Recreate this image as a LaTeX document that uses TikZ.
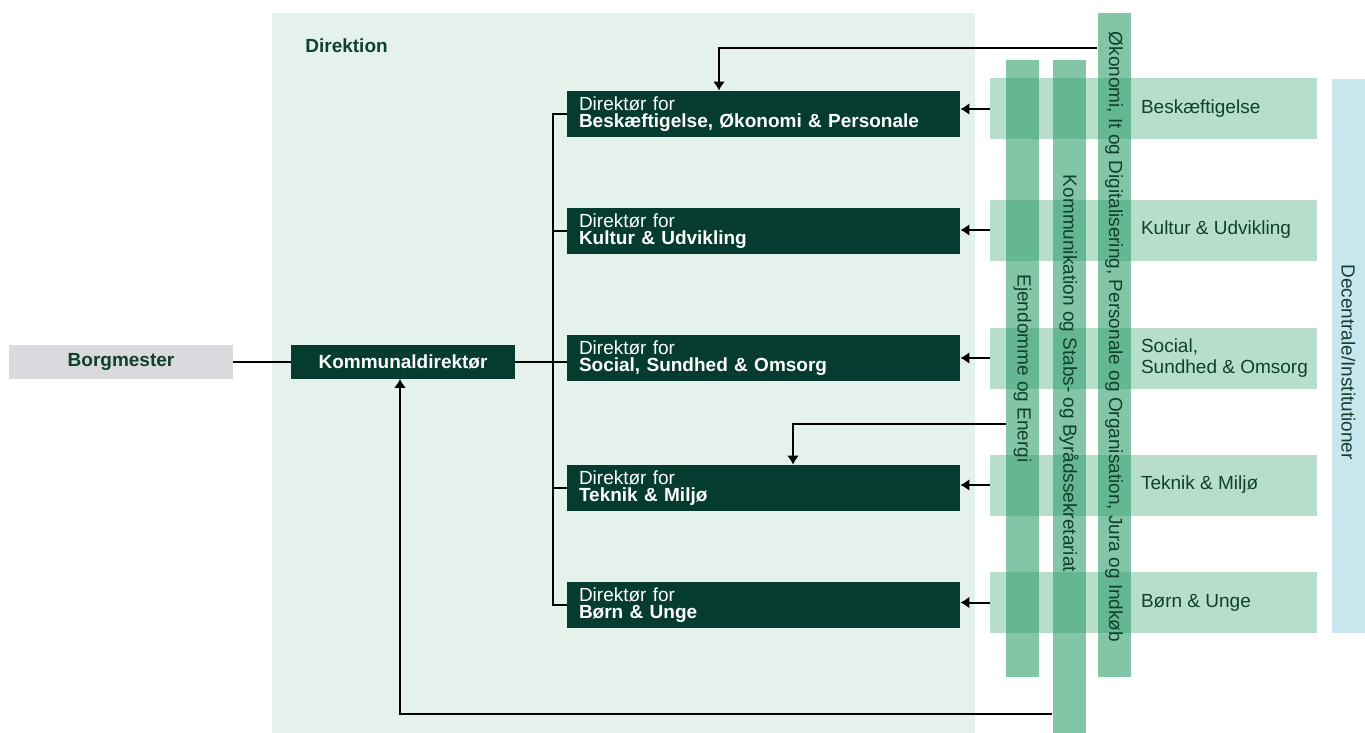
\documentclass[tikz,border=0pt]{standalone}
\usepackage{fontspec}
\setmainfont{Liberation Sans}
\usetikzlibrary{shapes,arrows,arrows.meta,calc}
\definecolor{darkgreen}{HTML}{053C2F}
\definecolor{textgreen}{HTML}{10402F}
\definecolor{direktionbg}{HTML}{E4F2EB}
\definecolor{mayorgrey}{HTML}{D9D9DE}
\definecolor{deptgreen}{HTML}{B6DECB}
\definecolor{staffgreen}{HTML}{2F9E6C}
\definecolor{decentblue}{HTML}{C7E6ED}
\newcommand{\orgfont}{\fontsize{9.5}{8.75}\selectfont}
\newcommand{\deptfont}{\fontsize{9.5}{10.5}\selectfont}
\tikzstyle{line} = [draw, -{Latex[length=4.5pt,width=6pt]}, line width=1pt]
\tikzstyle{conn} = [draw, line width=1pt]
\tikzstyle{block} = [rectangle, fill=darkgreen, text=white, align=left, text width=184.5pt, inner xsep=6pt, inner ysep=0pt, minimum width=196.5pt, minimum height=23pt, font=\orgfont]
\tikzstyle{topbox} = [rectangle, inner sep=0pt, minimum width=112pt, minimum height=17pt, font=\orgfont\bfseries]
\tikzstyle{dept} = [rectangle, fill=deptgreen, inner sep=0pt, minimum width=163.5pt, minimum height=30.5pt]
\tikzstyle{depttext} = [text=textgreen, font=\deptfont, align=left, anchor=west, inner sep=0pt]
\tikzstyle{staff} = [rectangle, fill=staffgreen, fill opacity=0.6, inner sep=0pt, minimum width=16.5pt]
\tikzstyle{vtext} = [rotate=-90, text=textgreen, font=\orgfont, inner sep=0pt]

\begin{document}
\begin{tikzpicture}[x=0.5pt, y=-0.5pt]
        \useasboundingbox (0,0) rectangle (1365,733);
        % direktion area
        \node[rectangle, fill=direktionbg, inner sep=0pt, minimum width=351.5pt, minimum height=360pt] (direktion) at (623.5,373) {};
        \node[anchor=west, inner sep=0pt, text=textgreen, font=\orgfont\bfseries] (direktion-title) at (305,46) {Direktion};
        % top level
        \node[topbox, fill=mayorgrey, text=textgreen] (borgmester) at (121,361.5) {Borgmester};
        \node[topbox, fill=darkgreen, text=white] (kommunal) at (403,361.5) {Kommunaldirektør};
        % directors
        \node[block] (besk) at (763.5,114) {Direktør for\\\textbf{Beskæftigelse, Økonomi \& Personale}};
        \node[block] (kultur) at (763.5,231) {Direktør for\\\textbf{Kultur \& Udvikling}};
        \node[block] (social) at (763.5,358) {Direktør for\\\textbf{Social, Sundhed \& Omsorg}};
        \node[block] (teknik) at (763.5,488) {Direktør for\\\textbf{Teknik \& Miljø}};
        \node[block] (born) at (763.5,605) {Direktør for\\\textbf{Børn \& Unge}};
        % departments
        \node[dept] (beskdept) at (1153.5,109) {};
        \node[dept] (kulturdept) at (1153.5,230) {};
        \node[dept] (socialdept) at (1153.5,358) {};
        \node[dept] (teknikdept) at (1153.5,485) {};
        \node[dept] (borndept) at (1153.5,602.5) {};
        \node[depttext] (beskdept-text) at ([xshift=75.5pt]beskdept.west) {Beskæftigelse};
        \node[depttext] (kulturdept-text) at ([xshift=75.5pt]kulturdept.west) {Kultur \& Udvikling};
        \node[depttext] (socialdept-text) at ([xshift=75.5pt]socialdept.west) {Social,\\Sundhed \& Omsorg};
        \node[depttext] (teknikdept-text) at ([xshift=75.5pt]teknikdept.west) {Teknik \& Miljø};
        \node[depttext] (borndept-text) at ([xshift=75.5pt]borndept.west) {Børn \& Unge};
        % staff functions
        \node[staff, minimum height=308.5pt] (ejendom) at (1022.5,368.5) {};
        \node[staff, minimum height=336.5pt] (komm) at (1069,396.5) {};
        \node[staff, minimum height=332pt] (okonomi) at (1114,345) {};
        \node[rectangle, fill=decentblue, inner sep=0pt, minimum width=16.5pt, minimum height=277pt] (decentral) at (1348.5,356) {};
        \node[vtext] (ejendom-text) at (ejendom.center) {Ejendomme og Energi};
        \node[vtext] (komm-text) at ([yshift=11.5pt]komm.center) {Kommunikation og Stabs- og Byrådssekretariat};
        \node[vtext] (okonomi-text) at ([yshift=4pt]okonomi.center) {Økonomi, It og Digitalisering, Personale og Organisation, Jura og Indkøb};
        \node[vtext] (decentral-text) at ([yshift=-3pt]decentral.center) {Decentrale/Institutioner};
        % lines
        \path[conn] (borgmester) -- (kommunal);
        \path[conn] (kommunal.east) -- (kommunal.east -| social.west);
        \path[conn] (besk.west) -- ++(-14,0) |- (born.west);
        \path[conn] (kultur.west) -- ++(-14,0);
        \path[conn] (teknik.west) -- ++(-14,0);
        \path[line] (beskdept.west) -- (beskdept.west -| besk.east);
        \path[line] (kulturdept.west) -- (kulturdept.west -| kultur.east);
        \path[line] (socialdept.west) -- (socialdept.west -| social.east);
        \path[line] (teknikdept.west) -- (teknikdept.west -| teknik.east);
        \path[line] (borndept.west) -- (borndept.west -| born.east);
        \path[line] ([yshift=-17.5pt]okonomi.north west) -| ([xshift=-22.25pt]besk.north);
        \path[line] ([yshift=-182pt]ejendom.north west) -| ([xshift=14.75pt]teknik.north);
        \path[line] ([yshift=-327pt]komm.north west) -| ([xshift=-1.5pt]kommunal.south);
\end{tikzpicture}
\end{document}
